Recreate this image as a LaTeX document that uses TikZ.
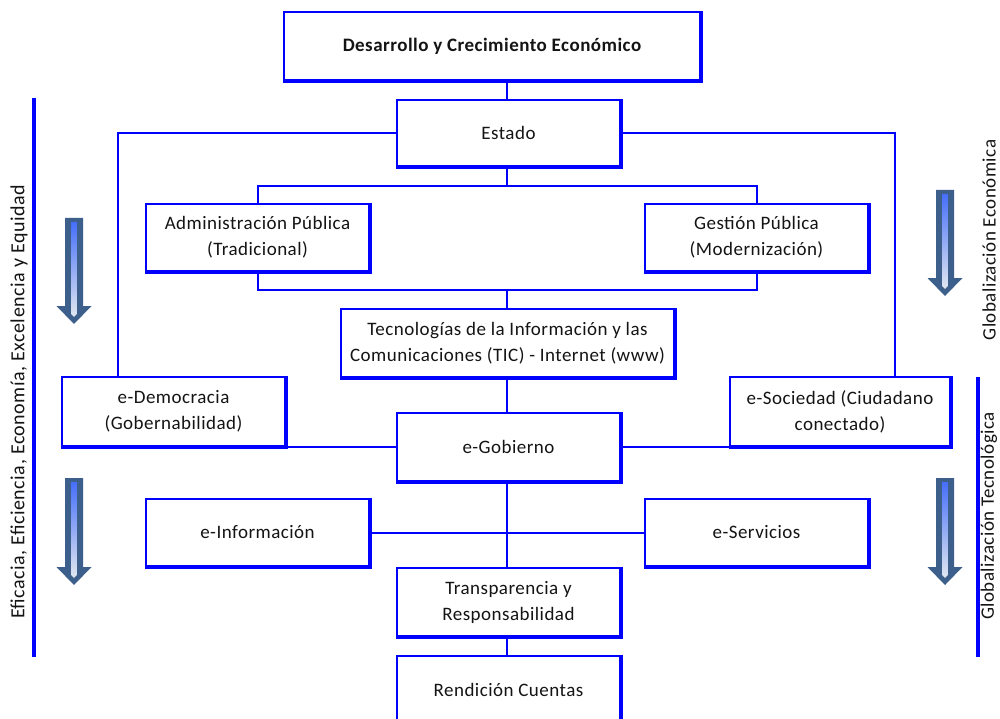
\documentclass[tikz,border=0pt]{standalone}
\usepackage{fontspec}
\setmainfont{Carlito}[LetterSpace=2.5]
\usetikzlibrary{calc}
\definecolor{linkblue}{RGB}{0,0,255}
\definecolor{arrowdark}{RGB}{60,95,140}
\definecolor{arrowtop}{RGB}{70,110,250}
\definecolor{arrowmid}{RGB}{130,175,250}
\definecolor{arrowbot}{RGB}{225,232,240}
\definecolor{ink}{RGB}{20,20,20}

% down arrow: #1 centre x, #2 top, #3 start of head, #4 tip
\newcommand\bigdownarrow[4]{%
  \fill[arrowdark] (#1-9,#2) -- (#1+9,#2) -- (#1+9,#3) -- (#1+17.5,#3)
    -- (#1,#4) -- (#1-17.5,#3) -- (#1-9,#3) -- cycle;
  \shade[top color=arrowtop, middle color=arrowmid, bottom color=arrowbot]
    (#1-2.8,#2+4) -- (#1+2.8,#2+4) -- (#1+2.8,#4-10) -- (#1,#4-7) -- (#1-2.8,#4-10) -- cycle;
}

\tikzset{
  box/.style={draw=linkblue, line width=2pt, fill=white, align=center,
    inner sep=0pt, minimum width=223pt, minimum height=67pt,
    text=ink, font=\fontsize{19}{26}\selectfont},
  boxshadow/.style={draw=linkblue, line width=4pt, line join=miter},
  link/.style={draw=linkblue, line width=2pt},
  bar/.style={draw=linkblue, line width=4pt},
  side/.style={rotate=90, text=ink, font=\fontsize{19}{22}\selectfont, inner sep=0pt},
}

\begin{document}
\begin{tikzpicture}[x=1pt, y=-1pt]
\clip (0,0) rectangle (1000,719);
\fill[white] (0,0) rectangle (1000,719);

% boxes
\node[box, minimum width=416pt, minimum height=68pt, font=\fontsize{19}{26}\selectfont\bfseries] (title) at (492,46) {Desarrollo y Crecimiento Económico};
\node[box, minimum height=66pt] (estado) at (508.5,133) {Estado};
\node[box] (adm) at (257.5,237.5) {Administración Pública\\(Tradicional)};
\node[box] (ges) at (756.5,237.5) {Gestión Pública\\(Modernización)};
\node[box, minimum width=333pt, minimum height=68pt] (tic) at (507.5,343) {Tecnologías de la Información y las\\Comunicaciones (TIC) - Internet (www)};
\node[box, minimum height=69pt] (edem) at (173.5,411.5) {e-Democracia\\(Gobernabilidad)};
\node[box, minimum width=220pt, minimum height=69pt] (esoc) at (840,411.5) {e-Sociedad (Ciudadano\\conectado)};
\node[box, minimum height=68pt] (egob) at (508.5,447) {e-Gobierno};
\node[box] (einf) at (257.5,532.5) {e-Información};
\node[box] (eser) at (756.5,532.5) {e-Servicios};
\node[box, minimum height=68pt] (trans) at (508.5,602) {Transparencia y\\Responsabilidad};
\node[box, minimum height=68pt] (rend) at (508.5,690) {Rendición Cuentas};

% heavier right and bottom edges of every box
\foreach \n in {title,estado,adm,ges,tic,edem,esoc,egob,einf,eser,trans,rend}
  \draw[boxshadow] (\n.north east) -- (\n.south east) -- (\n.south west);

% connectors
\coordinate (lt) at (118,133);
\coordinate (rt) at (895,133);
\coordinate (split) at (507,186);
\coordinate (join) at (507,290);
\draw[link] (estado.north -| split) -- (split |- title.south);
\draw[link] (estado.west) -- (lt) -- (lt |- edem.north);
\draw[link] (estado.east) -- (rt) -- (rt |- esoc.north);
\draw[link] (estado.south -| split) -- (split);
\draw[link] (adm.north) -- (adm.north |- split) -- (ges.north |- split) -- (ges.north);
\draw[link] (adm.south) -- (adm.south |- join) -- (ges.south |- join) -- (ges.south);
\draw[link] (join) -- (join |- tic.north);
\draw[link] (tic.south -| split) -- (split |- egob.north);
\draw[link] (egob.west) -- (egob.west -| edem.east);
\draw[link] (egob.east) -- (egob.east -| esoc.west);
\draw[link] (egob.south -| split) -- (split |- trans.north);
\draw[link] (einf.east) -- (eser.west);
\draw[link] (trans.south -| split) -- (split |- rend.north);

% side bars and labels
\coordinate (lbtop) at (34,98);
\coordinate (lbbot) at (34,657);
\coordinate (rbtop) at (978,377);
\coordinate (rbbot) at (978,657);
\draw[bar] (lbtop) -- (lbbot);
\draw[bar] (rbtop) -- (rbbot);
\node[side, font=\fontsize{20}{22}\selectfont] (lefttext) at (19,402) {Eficacia, Eficiencia, Economía, Excelencia y Equidad};
\node[side] (glecon) at (989,240) {Globalización Económica};
\node[side] (gltec) at (989,516) {Globalización Tecnológica};

% arrows
\bigdownarrow{74}{218}{306}{324}
\bigdownarrow{74}{478}{567}{585}
\bigdownarrow{945}{190}{278}{296}
\bigdownarrow{945}{478}{567}{585}
\end{tikzpicture}
\end{document}
